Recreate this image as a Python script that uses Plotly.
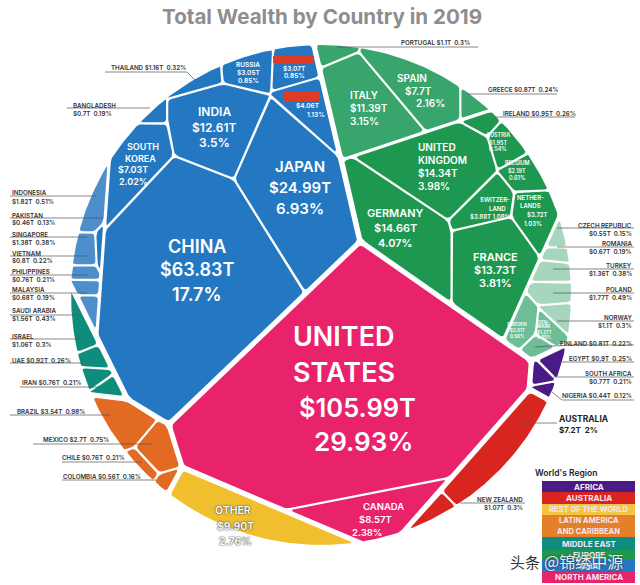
import math
import numpy as np
import plotly.graph_objects as go

# ---------- data ----------
COUNTRIES = ["United States","Canada","China","Japan","India","South Korea","Russia","Covered A","Covered B",
 "Thailand","Bangladesh","Indonesia","Pakistan","Singapore","Vietnam","Philippines","Malaysia",
 "Saudi Arabia","Israel","UAE","Iran","Brazil","Mexico","Chile","Colombia","Other",
 "Italy","Spain","Portugal","Greece","Ireland","United Kingdom","Germany","France","Austria","Belgium",
 "Switzerland","Netherlands","Czech Republic","Romania","Turkey","Poland","Norway","Sweden","Denmark","Finland",
 "Egypt","South Africa","Nigeria","Australia","New Zealand"]
WEALTH = [105.99,8.57,63.83,24.99,12.61,7.03,3.05,3.07,4.06,
 1.16,0.7,1.82,0.46,1.38,0.8,0.76,0.68,
 1.56,1.06,0.92,0.76,3.54,2.7,0.76,0.56,9.90,
 11.39,7.7,1.1,0.87,0.95,14.34,14.66,13.73,1.95,2.19,
 3.88,3.72,0.55,0.67,1.36,1.77,1.1,2.01,1.27,0.81,
 0.9,0.77,0.44,7.2,1.07]
SHARE = [29.93,2.38,17.7,6.93,3.5,2.02,0.85,0.85,1.13,
 0.32,0.19,0.51,0.13,0.38,0.22,0.21,0.19,
 0.43,0.3,0.26,0.21,0.98,0.75,0.21,0.16,2.76,
 3.15,2.16,0.3,0.24,0.26,3.98,4.07,3.81,0.54,0.61,
 1.08,1.03,0.15,0.19,0.38,0.49,0.3,0.56,0.35,0.22,
 0.25,0.21,0.12,2,0.3]
REGION_NAMES = ["AFRICA","AUSTRALIA","REST OF THE WORLD","LATIN AMERICA\nAND CARIBBEAN","MIDDLE EAST","EUROPE","ASIA","NORTH AMERICA"]

# ---------- layout: seeds of a nested weighted Voronoi diagram; every cell's area comes from WEALTH ----------
CX, CY, R = 321, 295, 250
TREE = [
 ((321,347), [((350,380),"United States"),((375,507),"Canada")]),
 ((190,210), [
    ((210,200), [((195,285),"China"),((305,216),"Japan"),((234,185),"India"),((115,210),"South Korea"),
                 ((248,125),"Russia"),((337,129),"Covered A"),((348,167),"Covered B"),((218,128),"Thailand"),((115,185),"Bangladesh")]),
    ((70,190), [((85,195),"Indonesia"),((130,235),"Pakistan"),((85,237),"Singapore"),((85,256),"Vietnam"),((85,272),"Philippines"),((85,293),"Malaysia")]),
 ]),
 ((461,146), [
    ((405,115), [((368,105),"Italy"),((412,68),"Spain"),((345,50),"Portugal"),((475,68),"Greece")]),
    ((440,220), [((443,160),"United Kingdom"),((393,235),"Germany"),((495,235),"France"),((510,140),"Austria"),((472,106),"Ireland"),
                 ((528,172),"Belgium"),((488,205),"Switzerland"),((530,210),"Netherlands")]),
    ((558,273), [((557,228),"Czech Republic"),((557,247),"Romania"),((555,268),"Turkey"),((555,292),"Poland"),((557,318),"Norway"),
                 ((517,328),"Sweden"),((545,331),"Denmark"),((535,347),"Finland")]),
 ]),
 ((74,268), [((79,320),"Saudi Arabia"),((91,350),"Israel"),((90,368),"UAE"),((102,385),"Iran")]),
 ((55,430), [((120,418),"Brazil"),((152,445),"Mexico"),((136,460),"Chile"),((161,477),"Colombia")]),
 ((243,531), [((243,531),"Other")]),
 ((493,499), [((505,450),"Australia"),((452,502),"New Zealand")]),
 ((565,365), [((558,358),"Egypt"),((544,372),"South Africa"),((547,388),"Nigeria")]),
]
GAPS = {0: 2.6, 1: 1.6, 2: 1.1}

BLUE, RIMBLUE = "#2478C2", "#4C8FCC"
FILL = {"United States":"#E8236C","Canada":"#E8236C"}
for n in COUNTRIES[2:11]+["Pakistan"]: FILL[n] = BLUE
for n in COUNTRIES[11:17]:
    FILL.setdefault(n, RIMBLUE)
for n in ["Saudi Arabia","Israel","UAE","Iran"]: FILL[n] = "#0E8C7C"
for n in ["Brazil","Mexico","Chile","Colombia"]: FILL[n] = "#E26A22"
FILL["Other"] = "#F1BF2D"
for n in ["United Kingdom","Germany","France","Austria","Ireland","Belgium","Switzerland","Netherlands"]: FILL[n] = "#1E9850"
for n in ["Italy","Spain","Portugal","Greece"]: FILL[n] = "#38A56C"
for n in ["Czech Republic","Romania","Turkey","Poland","Norway"]: FILL[n] = "#A6D6BE"
for n in ["Sweden","Denmark","Finland"]: FILL[n] = "#6DBD98"
for n in ["Egypt","South Africa","Nigeria"]: FILL[n] = "#4A1A86"
for n in ["Australia","New Zealand"]: FILL[n] = "#D9251F"

val = dict(zip(COUNTRIES, WEALTH))
def total(node):
    return val[node[1]] if isinstance(node[1], str) else sum(total(c) for c in node[1])

def clip(poly, nx, ny, c, label):
    out = []
    m = len(poly)
    for k in range(m):
        px, py, lab = poly[k]
        qx, qy, _ = poly[(k+1) % m]
        dp = nx*px+ny*py-c
        dq = nx*qx+ny*qy-c
        if dp <= 0:
            out.append((px, py, lab))
            if dq > 0:
                t = dp/(dp-dq)
                out.append((px+t*(qx-px), py+t*(qy-py), label))
        elif dq <= 0:
            t = dp/(dp-dq)
            out.append((px+t*(qx-px), py+t*(qy-py), lab))
    return out

def area(p):
    return abs(sum(p[k][0]*p[(k+1) % len(p)][1]-p[(k+1) % len(p)][0]*p[k][1] for k in range(len(p))))/2

def cell(i, w, s, poly, gap=0.0):
    for j in range(len(s)):
        if j == i:
            continue
        dx, dy = s[j]-s[i]
        d = math.hypot(dx, dy)
        c = (s[j]@s[j])-(s[i]@s[i])+w[i]-w[j]-2*d*gap
        poly = clip(poly, 2*dx, 2*dy, c, j)
        if len(poly) < 3:
            return []
    return poly

def measure(w, s, poly):
    n = len(s)
    A = np.zeros(n); H = np.zeros((n, n))
    for i in range(n):
        p = cell(i, w, s, poly)
        m = len(p)
        if m < 3:
            continue
        A[i] = area(p)
        for k in range(m):
            x0, y0, lab = p[k]
            x1, y1, _ = p[(k+1) % m]
            if lab >= 0 and lab != i:
                kk = math.hypot(x1-x0, y1-y0)/(2*np.linalg.norm(s[i]-s[lab]))
                H[i, i] += kk
                H[i, lab] -= kk
    return A, H

def solve(s, T, poly):
    n = len(s)
    poly = [(x, y, -1) for x, y, _ in poly]
    w = T/math.pi
    for it in range(80):
        A, H = measure(w, s, poly)
        for i in range(n):
            if H[i, i] > 1e-6:
                w[i] += 0.5*(T[i]-A[i])/H[i, i]
            elif A[i] < T[i]*0.5:      # cell has vanished: raise it until it reappears
                w[i] += 400.0
            elif A[i] > T[i]:          # cell owns the whole parent: lower it
                w[i] -= 400.0
    A, H = measure(w, s, poly)
    err = np.abs(T-A).sum()
    for it in range(15):
        dw = np.linalg.lstsq(H+1e-7*np.eye(n), T-A, rcond=None)[0]
        lam = 1.0
        ok = False
        while lam > 0.02:
            A2, H2 = measure(w+lam*dw, s, poly)
            e2 = np.abs(T-A2).sum()
            if e2 < err:
                ok = True
                break
            lam *= 0.5
        if not ok:
            break
        w = w+lam*dw
        A, H, err = A2, H2, e2
    return w

leaves = {}
def divide(poly, nodes, depth):
    if len(nodes) == 1:
        cells = [poly]
    else:
        s = np.array([nd[0] for nd in nodes], float)
        vals = np.array([total(nd) for nd in nodes])
        T = vals/vals.sum()*area(poly)
        w = solve(s, T, poly)
        gap = GAPS[0] if depth == 0 else (GAPS[2] if isinstance(nodes[0][1], str) else GAPS[1])
        cells = [cell(i, w, s, [(x, y, -1) for x, y, _ in poly], gap) for i in range(len(nodes))]
    for nd, c in zip(nodes, cells):
        if isinstance(nd[1], str):
            leaves[nd[1]] = c
        else:
            divide(c, nd[1], depth+1)

boundary = [(CX+R*math.cos(t), CY+R*math.sin(t), -1) for t in np.linspace(0, 2*math.pi, 180, endpoint=False)]
divide(boundary, TREE, 0)

def rounded(poly, r=3.5, n=4):
    out = []
    m = len(poly)
    for k in range(m):
        p0 = np.array(poly[k-1][:2]); p1 = np.array(poly[k][:2]); p2 = np.array(poly[(k+1) % m][:2])
        a, b = np.linalg.norm(p0-p1), np.linalg.norm(p2-p1)
        if a < 1e-6 or b < 1e-6:
            continue
        ca = min(r, a*0.45); cb = min(r, b*0.45)
        u = p1+(p0-p1)/a*ca
        v = p1+(p2-p1)/b*cb
        for t in np.linspace(0, 1, n):
            out.append((1-t)**2*u+2*t*(1-t)*p1+t*t*v)
    return np.array(out)

fig = go.Figure()
for i, name in enumerate(COUNTRIES):
    p = leaves.get(name, [])
    if len(p) < 3:
        continue
    q = rounded(p)
    q = np.vstack([q, q[:1]])
    fig.add_trace(go.Scatter(x=q[:, 0], y=q[:, 1], mode="lines", fill="toself", name=name,
        fillcolor=FILL[name], line=dict(width=0), showlegend=False,
        hovertext=f"{name} ${WEALTH[i]:g}T {SHARE[i]:g}%", hoverinfo="text"))

annos, shapes = [], []
FONT = "Inter"
def txt(x, y, t, size, color="#fff", anchor="center", weight=600, shadow=None):
    f = dict(family=FONT, size=size, color=color, weight=weight)
    if shadow: f["shadow"] = shadow
    annos.append(dict(x=x, y=y, text=t, showarrow=False, xanchor=anchor, yanchor="middle", font=f, xref="x", yref="y"))
def money(n): i = COUNTRIES.index(n); return f"${WEALTH[i]:g}T"
def pct(n): i = COUNTRIES.index(n); return f"{SHARE[i]:g}%"
def both(n, sep="  "): return money(n)+sep+pct(n)
DARK = "#333333"
HALO = "0 0 2px #444, 0 0 1px #444"

annos.append(dict(x=322, y=16, text="Total Wealth by Country in 2019", showarrow=False, xanchor="center", yanchor="middle",
    font=dict(family=FONT, size=20.6, color="#8E8E8E", weight=700), xref="x", yref="y"))

# cell labels
txt(291,336,"UNITED",27,anchor="left"); txt(291,372,"STATES",27,anchor="left")
txt(357,407,money("United States"),25.5); txt(363,441,pct("United States"),26)
for y,t in zip((246,269,294),("CHINA",money("China"),pct("China"))): txt(197,y,t,18)
for y,t in zip((166,187,208),("JAPAN",money("Japan"),pct("Japan"))): txt(300,y,t,15)
for y,t in zip((111,127,142),("INDIA",money("India"),pct("India"))): txt(214,y,t,12)
txt(143,146,"SOUTH",9); txt(140,158,"KOREA",9); txt(133,169,money("South Korea"),9); txt(133,181,pct("South Korea"),9)
for y,t in zip((65,73,81),("RUSSIA",money("Russia"),pct("Russia"))): txt(248,y,t,6.5)
txt(294,69,money("Covered A"),6.5); txt(294,76,pct("Covered A"),6.5)
txt(308,106,money("Covered B"),6.5); txt(316,115,pct("Covered B"),6.5)
for y,t in zip((95,108,121),("ITALY",money("Italy"),pct("Italy"))): txt(348,y,t,10,anchor="left")
txt(395,78,"SPAIN",10,anchor="left"); txt(403,91,money("Spain"),10,anchor="left"); txt(414,103,pct("Spain"),10,anchor="left")
for y,t in zip((147,160,173,186),("UNITED","KINGDOM",money("United Kingdom"),pct("United Kingdom"))): txt(416,y,t,10,anchor="left")
for y,t in zip((213,228,243),("GERMANY",money("Germany"),pct("Germany"))): txt(395,y,t,11)
for y,t in zip((257,270,283),("FRANCE",money("France"),pct("France"))): txt(495,y,t,11)
for y,t in zip((135,142,149),("AUSTRIA",money("Austria"),pct("Austria"))): txt(498,y,t,5.5)
for y,t in zip((163,170,178),("BELGIUM",money("Belgium"),pct("Belgium"))): txt(517,y,t,5.5)
txt(495,199,"SWITZER-",6); txt(497,208,"LAND",6); txt(490,216,both("Switzerland"," "),6)
txt(530,197,"NETHER-",6); txt(530,205,"LANDS",6); txt(537,214,money("Netherlands"),6); txt(533,223,pct("Netherlands"),6)
for y,t in zip((324,330,336),("SWEDEN",money("Sweden"),pct("Sweden"))): txt(517,y,t,4.5)
for y,t in zip((322,326,332,337),("DEN-","MARK",money("Denmark"),pct("Denmark"))): txt(544,y,t,4.5)
txt(383,506,"CANADA",9.5); txt(375,519,money("Canada"),9.5); txt(367,532,pct("Canada"),9.5)
txt(233,510,"OTHER",10.5,shadow=HALO); txt(235,526,"$9.90T",10.5,shadow=HALO); txt(235,541,pct("Other"),10.5,shadow=HALO)

# outside labels: name on top, value below
for n,lab,x,y1,y2,anc in [("Indonesia","INDONESIA",10,192,201,"left"),("Pakistan","PAKISTAN",10,215,222,"left"),
    ("Singapore","SINGAPORE",10,234,242,"left"),("Vietnam","VIETNAM",10,253,260,"left"),
    ("Philippines","PHILIPPINES",10,271,279,"left"),("Malaysia","MALAYSIA",10,289,297,"left"),
    ("Saudi Arabia","SAUDI ARABIA",10,310,318,"left"),("Israel","ISRAEL",10,336,344,"left"),
    ("Bangladesh","BANGLADESH",71,105,113,"left"),("Czech Republic","CZECH REPUBLIC",634,225,233,"right"),
    ("Romania","ROMANIA",634,243,251,"right"),("Turkey","TURKEY",634,265,273,"right"),
    ("Poland","POLAND",634,289,297,"right"),("Norway","NORWAY",634,317,325,"right"),
    ("South Africa","SOUTH AFRICA",634,373,381,"right"),("New Zealand","NEW ZEALAND",525,499,507,"right")]:
    txt(x,y1,lab,6.2,DARK,anc); txt(x,y2,both(n),6.2,DARK,anc)
txt(557,419,"AUSTRALIA",8.5,"#222","left",700); txt(557,430,both("Australia"),8,"#222","left",700)
# outside labels on one line
for n,lab,x,y,anc in [("UAE","UAE",10,360,"left"),("Iran","IRAN",20,382,"left"),("Brazil","BRAZIL",15,411,"left"),
    ("Mexico","MEXICO",41,439,"left"),("Chile","CHILE",60,457,"left"),("Colombia","COLOMBIA",61,476,"left"),
    ("Thailand","THAILAND",109,67,"left"),("Portugal","PORTUGAL",399,42,"left"),("Greece","GREECE",486,89,"left"),
    ("Ireland","IRELAND",501,113,"left"),("Finland","FINLAND",634,343,"right"),("Egypt","EGYPT",634,358,"right"),
    ("Nigeria","NIGERIA",634,395,"right")]:
    txt(x,y,f"{lab} {both(n)}",6.2,DARK,anc)

# leader lines
LEADERS = [[(337,47),(478,47)],[(467,94),(557,94)],[(495,117),(575,117)],[(105,72),(187,72),(195,80)],[(67,108),(150,108)],
 [(10,196),(96,196)],[(10,218),(103,218)],[(10,237),(87,237)],[(10,256),(88,256)],[(10,275),(88,275)],[(10,293),(87,293)],
 [(10,315),(80,315)],[(10,339),(80,339)],[(10,363),(83,363)],[(20,387),(100,387)],[(10,415),(110,415)],[(33,444),(152,444)],
 [(62,462),(142,462)],[(62,480),(157,480)],[(557,228),(634,228)],[(557,247),(634,247)],[(553,269),(634,269)],[(553,293),(634,293)],
 [(557,321),(634,321)],[(535,347),(570,345),(634,345)],[(560,362),(634,362)],[(553,377),(634,377)],[(552,392),(562,400),(634,400)],
 [(520,423),(557,423)],[(460,503),(525,503)]]
for L in LEADERS:
    fig.add_trace(go.Scatter(x=[p[0] for p in L], y=[p[1] for p in L], mode="lines",
        line=dict(color="#555555", width=0.7), hoverinfo="skip", showlegend=False))

# red bars
for x0,y0,x1,y1 in [(273,56,314,63),(283,92,319,101)]:
    shapes.append(dict(type="rect", x0=x0, x1=x1, y0=y0, y1=y1, fillcolor="#DE3A26", line_width=0, layer="above"))

# legend
txt(566,473,"World's Region",8.5,"#222",weight=600)
ROWS = [(481,492,"#4A1A86"),(492,504,"#D9251F"),(504,515,"#F3C544"),(515,537,"#E47F2A"),(537,550,"#0E8C7C"),(550,560,"#1E9850"),(560,571,"#2478C2"),(571,583,"#E8236C")]
for (y0,y1,c),name in zip(ROWS,REGION_NAMES):
    shapes.append(dict(type="rect", x0=542, x1=635, y0=y0, y1=y1, fillcolor=c, line_width=0, layer="below"))
    lines = name.split("\n")
    for k,t in enumerate(lines):
        txt(588.5,(y0+y1)/2+(k-(len(lines)-1)/2)*10.5,t,8 if len(lines)==1 and len(t)<16 else 7.6,"#F6E6F4",weight=700)
annos.append(dict(x=508,y=561,text="头条",showarrow=False,xanchor="left",yanchor="middle",xref="x",yref="y",
    font=dict(family="Noto Sans CJK SC",size=15,color="#333333",shadow="0 0 2px #fff")))
annos.append(dict(x=542,y=561,text="@锦绣中源",showarrow=False,xanchor="left",yanchor="middle",xref="x",yref="y",
    font=dict(family="Noto Sans CJK SC",size=16,color="#E8F0F5",shadow="0 0 2px #222")))

fig.update_layout(width=640, height=585, margin=dict(l=0,r=0,t=0,b=0), paper_bgcolor="#fff", plot_bgcolor="#fff",
    xaxis=dict(range=[0,640], visible=False, fixedrange=True), yaxis=dict(range=[585,0], visible=False, fixedrange=True),
    annotations=annos, shapes=shapes, showlegend=False)
fig.write_html("out.html", config={"displayModeBar": False},
    post_script="document.body.style.margin='0';document.body.style.overflow='hidden';")
